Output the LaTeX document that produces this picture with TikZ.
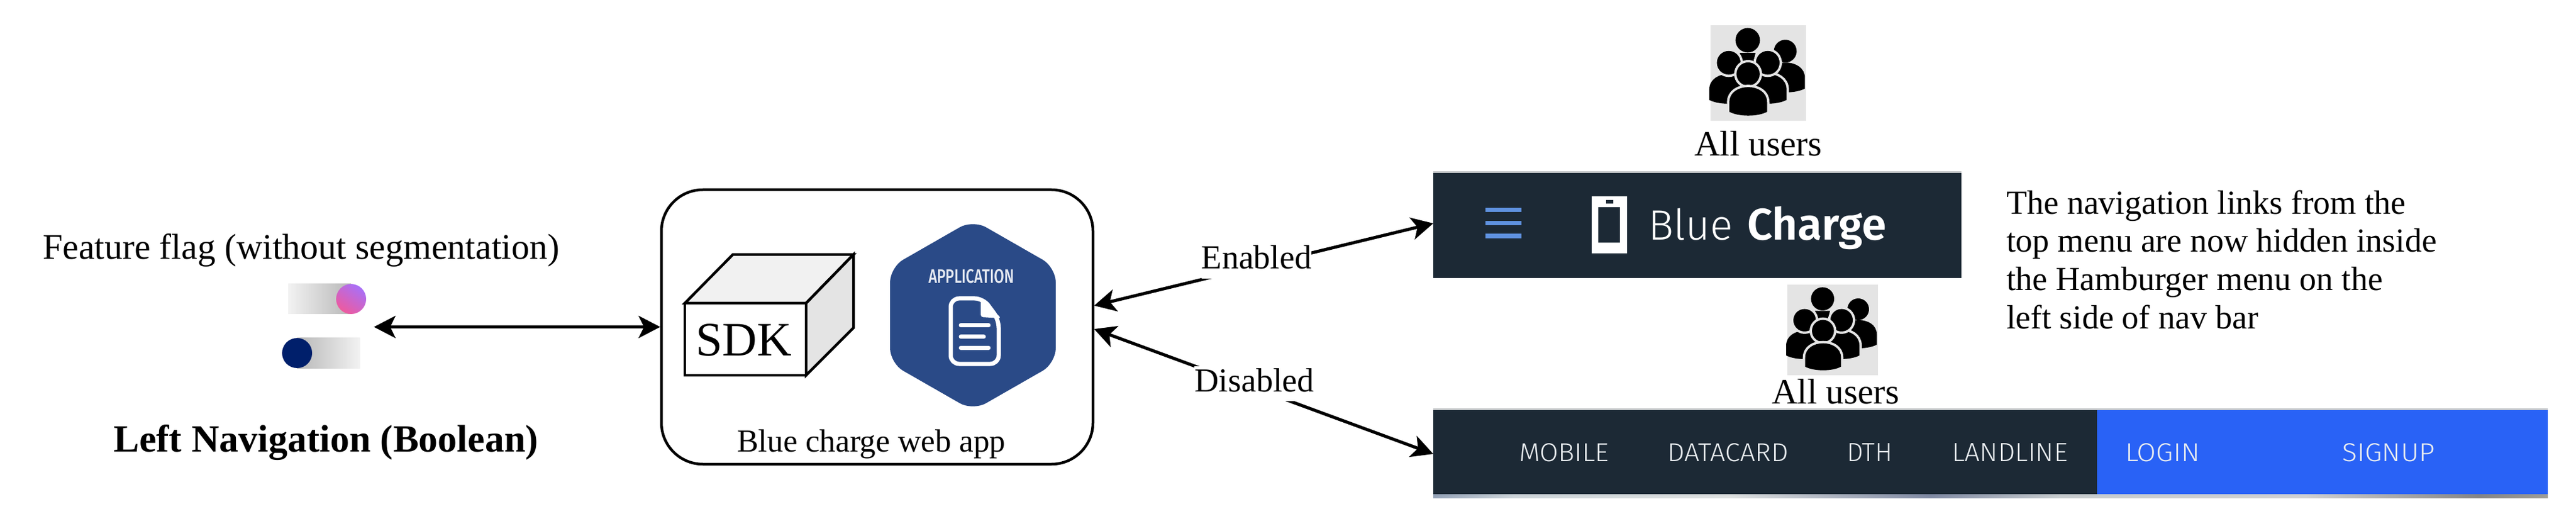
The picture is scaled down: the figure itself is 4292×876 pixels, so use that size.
\documentclass[tikz,border=0pt]{standalone}
\usepackage{fontspec}
\usepackage{graphicx}
\usetikzlibrary{arrows.meta}
\setmainfont{Liberation Serif}
\newfontfamily\plexish{Fira Sans}[UprightFont=* Light,BoldFont=* SemiBold]
\newfontfamily\condish{Fira Sans}[UprightFont=* Medium]
\definecolor{navdark}{HTML}{1C2935}
\definecolor{navblue}{HTML}{2962F6}
\definecolor{hexblue}{HTML}{2A4A87}
\definecolor{burger}{HTML}{5F92E0}
\definecolor{iconbg}{HTML}{E4E4E4}
\definecolor{stripgray}{HTML}{C9CBCD}
\definecolor{navtext}{HTML}{E9EDF0}
\definecolor{navy}{HTML}{001F6B}
\definecolor{pinkish}{HTML}{EE5A9E}
\definecolor{purplish}{HTML}{A870F8}
\definecolor{cubetop}{HTML}{F1F1F1}
\definecolor{cubeside}{HTML}{E4E4E4}
\pgfdeclarehorizontalshading{stripshade}{100bp}{
 rgb(0bp)=(.77,.77,.74); rgb(7.3bp)=(.80,.78,.75); rgb(12.5bp)=(.79,.78,.75);
 rgb(24.7bp)=(.56,.62,.71); rgb(28.6bp)=(.80,.83,.85); rgb(38.3bp)=(.87,.88,.88);
 rgb(47.3bp)=(.50,.54,.64); rgb(53.1bp)=(.78,.80,.81); rgb(64.1bp)=(.82,.82,.82);
 rgb(71.9bp)=(.52,.52,.52); rgb(75.7bp)=(.65,.64,.60); rgb(79.6bp)=(.83,.83,.81);
 rgb(93.2bp)=(.86,.86,.86); rgb(100bp)=(.56,.56,.61)}
\newcommand{\bulletbody}[4]{(#1,#4) -- (#1,{#3+(#2-#1)*0.4}) .. controls (#1,{#3-(#2-#1)*0.133}) and (#2,{#3-(#2-#1)*0.133}) .. (#2,{#3+(#2-#1)*0.4}) -- (#2,#4) .. controls ({#2-(#2-#1)*0.25},{#4+8}) and ({#1+(#2-#1)*0.25},{#4+8}) .. (#1,#4) -- cycle}
\newcommand{\halo}[1]{\draw[iconbg,line width=2pt] #1; \fill[black] #1;}
\tikzset{
  tip/.tip={Stealth[length=9pt,width=9.25pt,inset=2.25pt]},
  biconn/.style={line width=1.3pt,tip-tip},
  txt/.style={inner sep=0pt,outer sep=0pt,anchor=base west,text=black},
  lbl/.style={inner sep=0pt,outer sep=0pt,anchor=base,fill=white,font=\fontsize{14}{16}\selectfont,text height=10.5pt,text depth=4pt},
  navlbl/.style={inner sep=0pt,outer sep=0pt,anchor=base west,text=navtext},
  bar/.style={inner sep=0pt,outer sep=0pt,draw=none},
  pics/people/.style={code={
    \fill[iconbg] (0,0) rectangle (151,151);
    \fill[black] \bulletbody{89}{149}{59}{100};
    \fill[black] (118,41) circle [radius=18];
    \halo{\bulletbody{59}{120}{77}{118}}
    \fill[black] \bulletbody{-2}{59}{77}{118};
    \fill[black] (58.7,23.7) circle [radius=19.3];
    \fill[black] (46,43.7) -- (71,43.7) -- (67,62) -- (50,62) -- cycle;
    \halo{(28.7,59.3) circle [radius=18.7]}
    \halo{(90.3,59.3) circle [radius=18.7]}
    \halo{(59.3,77) circle [radius=18.3]}
    \halo{\bulletbody{29.7}{89.3}{97.7}{136.7}}
  }}
}
\begin{document}
\begin{tikzpicture}[x=0.25pt,y=-0.25pt]
\useasboundingbox (0,0) rectangle (4292,876);
% feature flag
\node[txt,font=\fontsize{15}{18}\selectfont] (fflabel) at (71,432) {Feature flag (without segmentation)};
\node[txt,font=\fontsize{16}{19}\selectfont\bfseries] (lnavlabel) at (189.5,752) {Left Navigation (Boolean)};
\node[bar,minimum width=26.25pt,minimum height=12.5pt,left color=black!5,right color=black!28] (trackon) at (532.5,498) {};
\node[bar,circle,minimum size=12.5pt,shading=axis,bottom color=pinkish,top color=purplish,shading angle=-35] (knobon) at (585,498) {};
\node[bar,minimum width=26.25pt,minimum height=12.5pt,left color=black!28,right color=black!5] (trackoff) at (547.5,588) {};
\node[bar,circle,minimum size=12.5pt,fill=navy] (knoboff) at (495,588) {};
\coordinate (togglesend) at (623,544.5);
% web app box
\node[draw,line width=1.125pt,rounded corners=17.25pt,minimum width=179.75pt,minimum height=114.25pt,inner sep=0pt,outer sep=0.5pt] (webapp) at (1461.5,544.5) {};
\draw[biconn] (togglesend) -- (webapp.west);
% SDK cube
\draw[line width=1.125pt,line join=miter,fill=cubetop] (1141,505) -- (1221,424) -- (1422,424) -- (1343,505) -- cycle;
\draw[line width=1.125pt,line join=miter,fill=cubeside] (1343,505) -- (1422,424) -- (1422,546) -- (1343,625) -- cycle;
\node[draw,fill=white,line width=1.125pt,minimum width=50.5pt,minimum height=30pt,inner sep=0pt,outer sep=0pt] (sdkfront) at (1242,565) {};
\node[txt,font=\fontsize{20}{24}\selectfont] (sdklabel) at (1159,592) {SDK};
% application hexagon
\fill[hexblue,rounded corners=6.25pt] (1621,366) -- (1759,445) -- (1759,605) -- (1621,684) -- (1483,605) -- (1483,445) -- cycle;
\node[inner sep=0pt,outer sep=0pt,anchor=base west,text=white!88!hexblue] (applabel) at (1547,471) {\resizebox{35.75pt}{5.75pt}{\condish APPLICATION}};
\draw[white,line width=1.75pt,rounded corners=3.5pt] (1584,497) -- (1638,497) -- (1664,532) -- (1664,606) -- (1584,606) -- cycle;
\fill[white,rounded corners=1pt] (1634,495) -- (1668,530) -- (1634,528) -- cycle;
\draw[white,line width=1.75pt,line cap=round] (1601,542) -- (1647,542);
\draw[white,line width=1.75pt,line cap=round] (1601,561) -- (1639,561);
\draw[white,line width=1.75pt,line cap=round] (1601,579) -- (1647,579);
\node[txt,font=\fontsize{13.33}{16}\selectfont] (applbl) at (1228,752) {Blue charge web app};
% top nav bar
\node[bar,fill=navdark,minimum width=220pt,minimum height=44.5pt] (navone) at (2828,374) {};
\fill[stripgray] (2388,285) rectangle (3268,288);
\fill[burger] (2475,346) rectangle (2535,353);
\fill[burger] (2475,368) rectangle (2535,375);
\fill[burger] (2475,389) rectangle (2535,397);
\fill[white] (2652,327) rectangle (2711,422);
\fill[navdark] (2663,345) rectangle (2699,404);
\fill[navdark] (2676,333) rectangle (2688,339);
\node[navlbl,text=white] (blue) at (2746,400) {\resizebox{35.25pt}{!}{\plexish Blue}};
\node[navlbl,text=white] (charge) at (2911,400) {\resizebox{58pt}{!}{\plexish\bfseries Charge}};
% bottom nav bar
\node[bar,fill=navdark,minimum width=276.5pt,minimum height=37.25pt] (navtwo) at (2941,754.5) {};
\node[bar,fill=navblue,minimum width=187.75pt,minimum height=35pt] (navlogin) at (3869.5,753) {};
\fill[stripgray] (2388,680) rectangle (4245,683);
\shade[shading=stripshade] (2388,823) rectangle (4245,829);
\node[navlbl] (mobile) at (2531,768) {\resizebox{37.5pt}{7.5pt}{\plexish MOBILE}};
\node[navlbl] (datacard) at (2778,768) {\resizebox{50.5pt}{7.5pt}{\plexish DATACARD}};
\node[navlbl] (dth) at (3077,768) {\resizebox{19pt}{7.5pt}{\plexish DTH}};
\node[navlbl] (landline) at (3252,768) {\resizebox{48.25pt}{7.5pt}{\plexish LANDLINE}};
\node[navlbl] (login) at (3541,768) {\resizebox{31pt}{7.5pt}{\plexish LOGIN}};
\node[navlbl] (signup) at (3902,768) {\resizebox{38.75pt}{7.5pt}{\plexish SIGNUP}};
% connectors
\draw[biconn] ([yshift=8.875pt]webapp.east) -- ([yshift=0.5pt]navone.west);
\draw[biconn] ([yshift=-0.875pt]webapp.east) -- ([yshift=-0.375pt]navtwo.west);
\node[lbl] (enabled) at (2093.5,448) {Enabled};
\node[lbl] (disabled) at (2090,652) {Disabled};
% users
\pic[scale=1.055] at (2850,42) {people};
\node[txt,font=\fontsize{14.85}{18}\selectfont] (users1) at (2823,260) {All users};
\pic at (2978,474) {people};
\node[txt,font=\fontsize{14.85}{18}\selectfont] (users2) at (2952,672) {All users};
% note
\node[txt,align=left,font=\fontsize{14}{15.9}\selectfont] (note) at (3343,547) {The navigation links from the\\top menu are now hidden inside\\the Hamburger menu on the\\left side of nav bar};
\end{tikzpicture}
\end{document}
